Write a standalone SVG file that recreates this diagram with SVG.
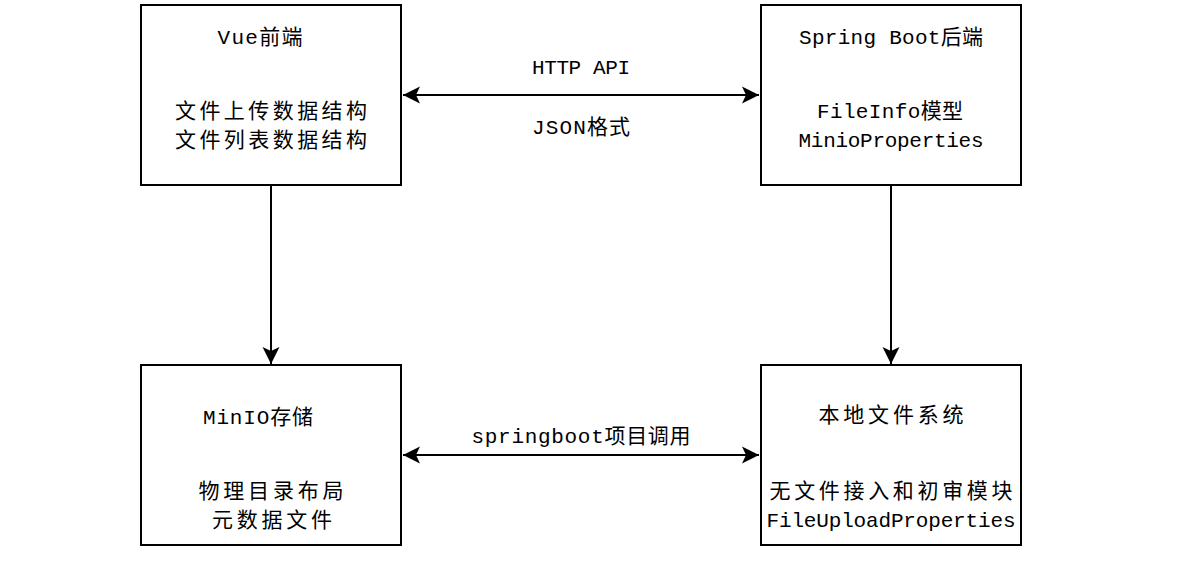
<svg xmlns="http://www.w3.org/2000/svg" width="1179" height="561" viewBox="0 0 1179 561">
<style>
.box{fill:#fff;stroke:#000;stroke-width:2}
.t{font-family:"Liberation Mono","Noto Sans CJK SC",monospace;font-size:21px;fill:#000;text-anchor:middle}
.c{fill:none;stroke:#000;stroke-width:2}
</style>
<defs>
<marker id="ah" markerUnits="userSpaceOnUse" markerWidth="20" markerHeight="20" viewBox="0 0 20 20" refX="18" refY="10" orient="auto-start-reverse">
<path d="M1,1.5 L18,10 L1,18.5 L5,10 Z" fill="#000"/>
</marker>
</defs>
<rect width="1179" height="561" fill="#fff"/>
<g id="connectors">
<path class="c" d="M403,95 H759" marker-start="url(#ah)" marker-end="url(#ah)"/>
<path class="c" d="M403,455 H759" marker-start="url(#ah)" marker-end="url(#ah)"/>
<path class="c" d="M271,185 V364" marker-end="url(#ah)"/>
<path class="c" d="M891,185 V364" marker-end="url(#ah)"/>
<text class="t" x="581" y="74" textLength="98">HTTP API</text>
<text class="t" x="581" y="134" textLength="98">JSON格式</text>
<text class="t" x="581" y="443" textLength="219">springboot项目调用</text>
</g>
<g id="vue">
<rect class="box" x="141" y="5" width="260" height="180"/>
<text class="t" x="260" y="44" textLength="85">Vue前端</text>
<text class="t" x="271" y="118" textLength="192">文件上传数据结构</text>
<text class="t" x="271" y="147" textLength="192">文件列表数据结构</text>
</g>
<g id="springboot">
<rect class="box" x="761" y="5" width="260" height="180"/>
<text class="t" x="891" y="44" textLength="184">Spring Boot后端</text>
<text class="t" x="890" y="118" textLength="146">FileInfo模型</text>
<text class="t" x="891" y="147" textLength="185">MinioProperties</text>
</g>
<g id="minio">
<rect class="box" x="141" y="365" width="260" height="180"/>
<text class="t" x="258" y="424" textLength="110">MinIO存储</text>
<text class="t" x="271" y="498" textLength="145">物理目录布局</text>
<text class="t" x="272" y="527" textLength="120">元数据文件</text>
</g>
<g id="localfs">
<rect class="box" x="761" y="365" width="260" height="180"/>
<text class="t" x="891" y="422" textLength="145">本地文件系统</text>
<text class="t" x="891" y="498" textLength="243">无文件接入和初审模块</text>
<text class="t" x="891" y="527" textLength="249">FileUploadProperties</text>
</g>
</svg>
